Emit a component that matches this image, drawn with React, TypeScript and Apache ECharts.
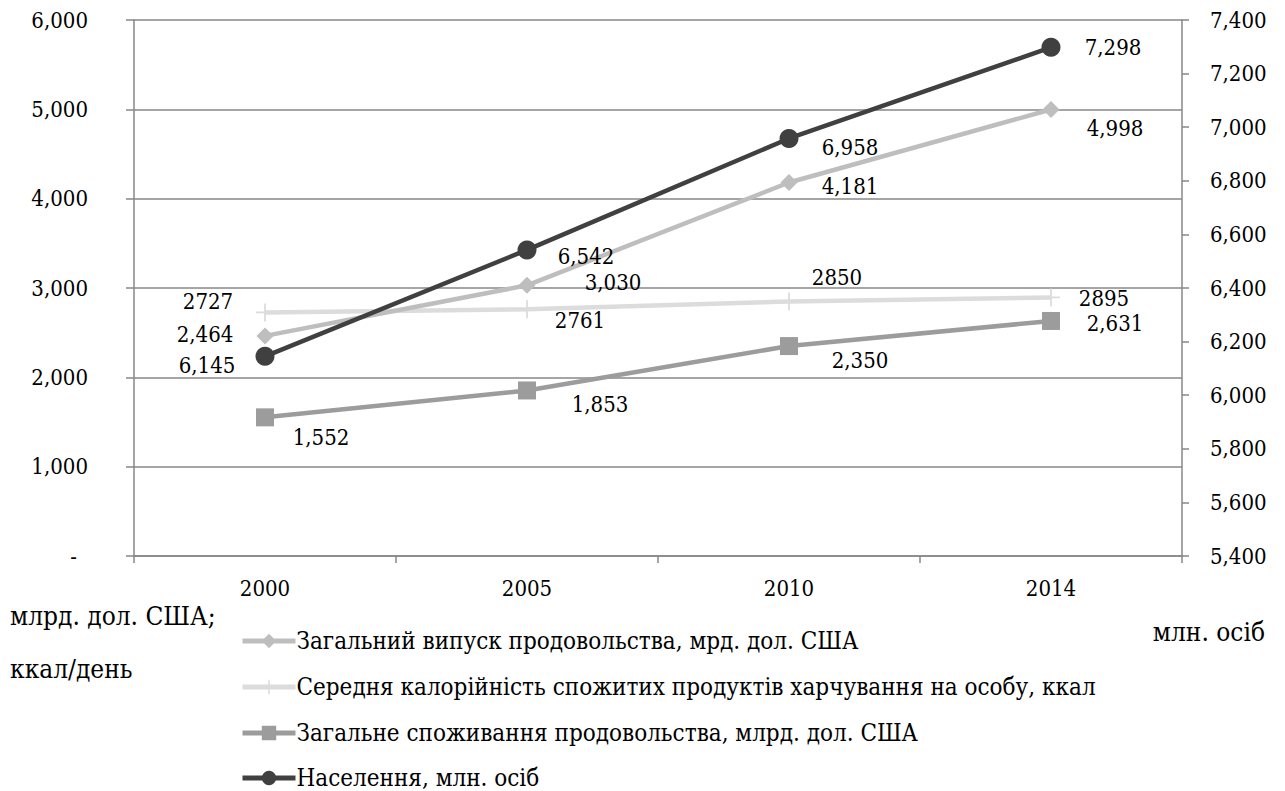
import React, { useEffect, useRef } from "react";
import * as echarts from "echarts";

const years = ["2000", "2005", "2010", "2014"];
const outputValues = [2464, 3030, 4181, 4998];
const caloriesValues = [2727, 2761, 2850, 2895];
const consumptionValues = [1552, 1853, 2350, 2631];
const populationValues = [6145, 6542, 6958, 7298];

const seriesNames = [
  "Загальний випуск продовольства, мрд. дол. США",
  "Середня калорійність спожитих продуктів харчування на особу, ккал",
  "Загальне споживання продовольства, млрд. дол. США",
  "Населення, млн. осіб",
];

// label centre offsets from each point, in pixels
const outputOffsets = [[-60, -1], [86, -3], [61, 4], [64, 19]];
const caloriesOffsets = [[-57, -11], [53, 11], [48, -24], [53, 1]];
const consumptionOffsets = [[56, 20], [73, 14], [71, 14], [64, 3]];
const populationOffsets = [[-58, 9], [59, 7], [61, 9], [62, 0]];

const FONT = "DejaVu Serif Condensed, DejaVu Serif";
const FS = 22;
const AXIS_COLOR = "#878787";
const PLUS = "path://M9,0 L11,0 L11,9 L20,9 L20,11 L11,11 L11,20 L9,20 L9,11 L0,11 L0,9 L9,9 Z";

const fmt = (v: number) => v.toLocaleString("en-US");

function withLabels(values: number[], offsets: number[][], commas: boolean) {
  return values.map((v, i) => ({
    value: v,
    label: {
      show: true,
      position: "inside",
      offset: offsets[i],
      formatter: commas ? fmt(v) : String(v),
      fontFamily: FONT,
      fontSize: FS,
      color: "#000",
    },
  }));
}

export default function App() {
  const ref = useRef<HTMLDivElement>(null);

  useEffect(() => {
    if (!ref.current) return;
    const chart = echarts.init(ref.current, undefined, { renderer: "svg" });
    const axisLabel = { fontFamily: FONT, fontSize: FS, color: "#000" };
    const unitText = (text: string, pos: Record<string, number>) => ({
      type: "text",
      ...pos,
      style: { text, fontFamily: FONT, fontSize: 26, fill: "#000" },
    });
    // one legend block per series so each row sits at its own height
    const legendTops = [629, 675, 721, 766];
    const legendRows = seriesNames.map((name, i) => ({
      orient: "vertical",
      left: 240,
      top: legendTops[i],
      padding: 0,
      itemWidth: 53,
      itemHeight: 18,
      lineStyle: { width: 5 },
      textStyle: {
        fontFamily: FONT,
        fontSize: 24,
        lineHeight: 18,
        color: "#000",
        padding: [0, 0, 0, -4],
      },
      data: [name],
    }));
    chart.setOption({
      animation: false,
      backgroundColor: "#fff",
      grid: { left: 134, right: 103, top: 20, bottom: 235, containLabel: false },
      xAxis: {
        type: "category",
        data: years,
        boundaryGap: true,
        axisLine: { lineStyle: { color: AXIS_COLOR, width: 1.5 } },
        axisTick: { show: true, length: 7, lineStyle: { color: AXIS_COLOR, width: 1.5 } },
        axisLabel: { ...axisLabel, margin: 21 },
      },
      yAxis: [
        {
          type: "value",
          min: 0,
          max: 6000,
          interval: 1000,
          axisLine: { show: true, lineStyle: { color: AXIS_COLOR, width: 1.5 } },
          axisTick: { show: true, length: 8, lineStyle: { color: AXIS_COLOR, width: 1.5 } },
          splitLine: { show: true, lineStyle: { color: AXIS_COLOR, width: 1.5 } },
          axisLabel: {
            ...axisLabel,
            margin: 46,
            formatter: (v: number) => (v === 0 ? "{dash|-}" : fmt(v)),
            rich: { dash: { fontFamily: FONT, fontSize: FS, color: "#000", padding: [0, 11, 0, 0] } },
          },
        },
        {
          type: "value",
          min: 5400,
          max: 7400,
          interval: 200,
          position: "right",
          axisLine: { show: true, lineStyle: { color: AXIS_COLOR, width: 1.5 } },
          axisTick: { show: true, length: 7, lineStyle: { color: AXIS_COLOR, width: 1.5 } },
          splitLine: { show: false },
          axisLabel: { ...axisLabel, margin: 28, formatter: (v: number) => fmt(v) },
        },
      ],
      legend: legendRows,
      graphic: [
        unitText("млрд. дол. США;", { left: 10, top: 603 }),
        unitText("ккал/день", { left: 10, top: 656 }),
        unitText("млн. осіб", { right: 20, top: 619 }),
      ],
      series: [
        {
          name: seriesNames[0],
          type: "line",
          yAxisIndex: 0,
          data: withLabels(outputValues, outputOffsets, true),
          symbol: "diamond",
          symbolSize: 17,
          itemStyle: { color: "#BEBEBE" },
          lineStyle: { color: "#BEBEBE", width: 4.5 },
          z: 3,
        },
        {
          name: seriesNames[1],
          type: "line",
          yAxisIndex: 0,
          data: withLabels(caloriesValues, caloriesOffsets, false),
          symbol: PLUS,
          symbolSize: 18,
          itemStyle: { color: "#DCDCDC" },
          lineStyle: { color: "#DCDCDC", width: 4.5 },
          z: 2,
        },
        {
          name: seriesNames[2],
          type: "line",
          yAxisIndex: 0,
          data: withLabels(consumptionValues, consumptionOffsets, true),
          symbol: "rect",
          symbolSize: 18,
          itemStyle: { color: "#9C9C9C" },
          lineStyle: { color: "#9C9C9C", width: 4.5 },
          z: 3,
        },
        {
          name: seriesNames[3],
          type: "line",
          yAxisIndex: 1,
          data: withLabels(populationValues, populationOffsets, true),
          symbol: "circle",
          symbolSize: 19,
          itemStyle: { color: "#404040" },
          lineStyle: { color: "#404040", width: 4.5 },
          z: 4,
        },
      ],
    });
    return () => chart.dispose();
  }, []);

  return (
    <div
      ref={ref}
      style={{ position: "fixed", left: 0, top: 0, width: 1285, height: 791, background: "#fff" }}
    />
  );
}
